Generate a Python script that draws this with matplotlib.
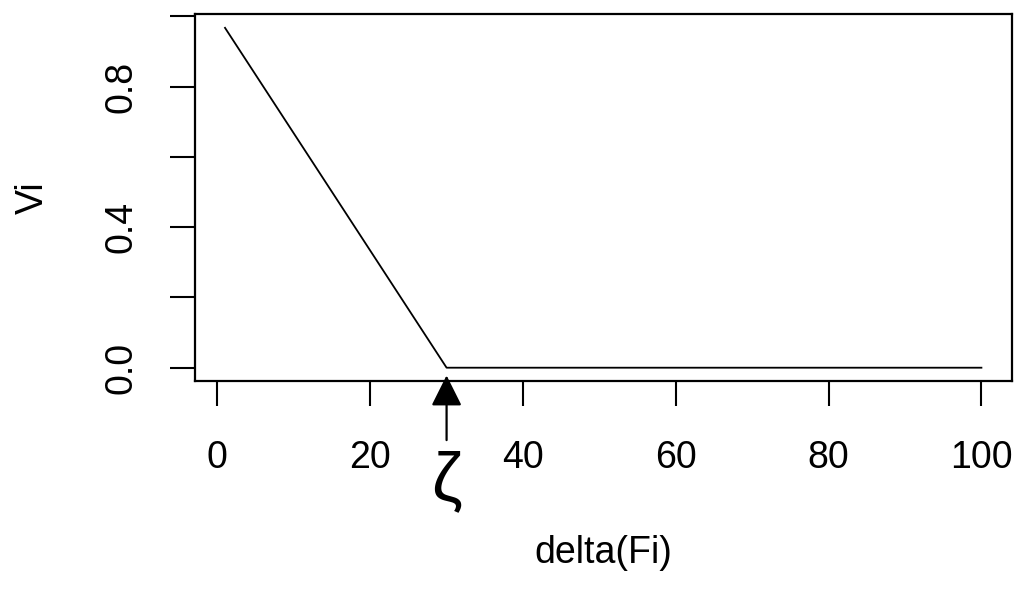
import numpy as np
import matplotlib
matplotlib.use('Agg')
import matplotlib.pyplot as plt

# Points de rupture de la courbe
delta_fi = [1, 30, 100]
vi = [0.967, 0.0, 0.0]
zeta = 30

x_ticks = [0, 20, 40, 60, 80, 100]
y_ticks = [0.0, 0.2, 0.4, 0.6, 0.8, 1.0]
y_labels = ['0.0', '', '0.4', '', '0.8', '']

plt.rcParams['font.family'] = ['Liberation Sans', 'DejaVu Sans']

fig = plt.figure(figsize=(10.25, 5.93), dpi=100)
ax = fig.add_axes([0.190, 0.357, 0.797, 0.619])

ax.plot(delta_fi, vi, color='black', linewidth=1.3)

# limites a la R (4% de marge)
xr = max(delta_fi) - min(delta_fi)
yr = max(vi) - min(vi)
ax.set_xlim(min(delta_fi) - 0.04 * xr, max(delta_fi) + 0.04 * xr)
ax.set_ylim(min(vi) - 0.04 * yr, max(vi) + 0.04 * yr)

ax.set_xticks(x_ticks)
ax.set_yticks(y_ticks)
ax.set_yticklabels(y_labels)
ax.tick_params(axis='both', direction='out', length=18, width=1.5,
               labelsize=27)
ax.tick_params(axis='x', pad=24)
ax.tick_params(axis='y', labelrotation=90, pad=22)
for lab in ax.get_yticklabels():
    lab.set_va('center')

for s in ax.spines.values():
    s.set_linewidth(1.6)

ax.set_xlabel('delta(Fi)', fontsize=27, labelpad=43)
ax.set_ylabel('Vi', fontsize=27, labelpad=38)

# fleche et zeta sous l'axe
ax.annotate('', xy=(zeta, -0.022), xytext=(zeta, -0.206),
            xycoords='data', textcoords='data', annotation_clip=False,
            arrowprops=dict(arrowstyle='-|>,head_length=1.9,head_width=0.95',
                            color='black', linewidth=1.6,
                            shrinkA=0, shrinkB=0))
ax.text(zeta, -0.235, 'ζ', fontsize=50, ha='center', va='top',
        family=['Liberation Sans'], clip_on=False)

fig.savefig('out.png', dpi=100)
